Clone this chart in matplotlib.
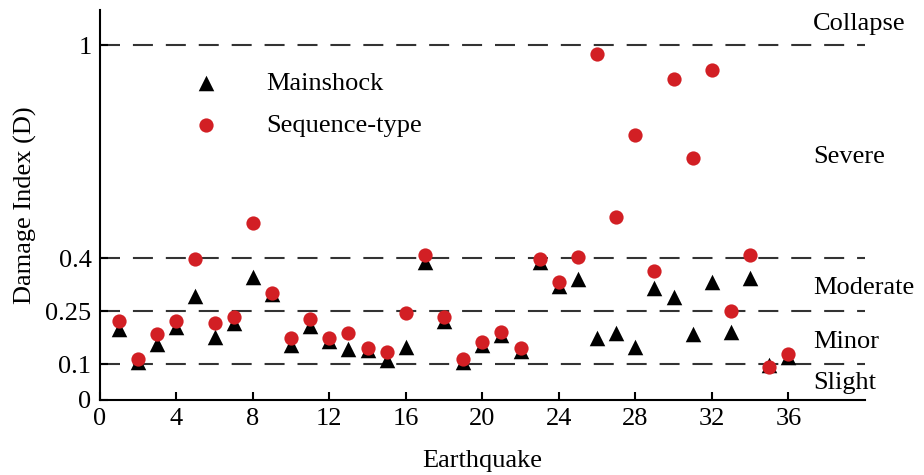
import matplotlib
matplotlib.use("Agg")
import matplotlib.pyplot as plt
import numpy as np

plt.rcParams['font.family'] = ['Liberation Serif', 'DejaVu Serif']
plt.rcParams['mathtext.fontset'] = 'stix'

# Data
earthquake = np.arange(1, 37)
mainshock = [0.20, 0.107, 0.158, 0.205, 0.293, 0.178, 0.217, 0.346, 0.298, 0.155,
             0.21, 0.166, 0.143, 0.14, 0.113, 0.15, 0.389, 0.223, 0.107, 0.155,
             0.183, 0.138, 0.389, 0.321, 0.341, 0.175, 0.189, 0.15, 0.315, 0.29,
             0.186, 0.332, 0.192, 0.344, 0.099, 0.121]
sequence = [0.223, 0.115, 0.186, 0.223, 0.397, 0.216, 0.235, 0.498, 0.303, 0.175,
            0.228, 0.175, 0.189, 0.146, 0.135, 0.245, 0.408, 0.235, 0.115, 0.163,
            0.192, 0.146, 0.397, 0.332, 0.403, 0.975, 0.515, 0.746, 0.363, 0.904,
            0.682, 0.932, 0.251, 0.408, 0.093, 0.13]

thresholds = [0.1, 0.25, 0.4, 1.0]
state_labels = ['Collapse', 'Severe', 'Moderate', 'Minor', 'Slight']
state_y = [1.06, 0.685, 0.315, 0.163, 0.048]

fig = plt.figure(figsize=(9.24, 4.75), dpi=100)
ax = fig.add_axes([0.108, 0.158, 0.828, 0.821])

# Damage state limits
for t in thresholds:
    ax.axhline(t, color='#333333', lw=1.5, dashes=(9.6, 6.2), zorder=1)

ax.scatter(earthquake, mainshock, marker='^', s=125, color='black',
           linewidths=0, zorder=2, label='Mainshock')
ax.scatter(earthquake, sequence, marker='o', s=105, color='#d21f24',
           linewidths=0, zorder=3, label='Sequence-type')

for lab, y in zip(state_labels, state_y):
    ax.text(37.3, y, lab, fontsize=19, ha='left', va='center', clip_on=False)

ax.set_xlim(0, 40)
ax.set_ylim(0, 1.1)
ax.set_xticks(np.arange(0, 37, 4))
ax.set_yticks([0, 0.1, 0.25, 0.4, 1])
ax.set_yticklabels(['0', '0.1', '0.25', '0.4', '1'])
ax.tick_params(direction='in', length=6, width=1.5, labelsize=19, pad=6)
ax.set_xlabel('Earthquake', fontsize=19, labelpad=14)
ax.set_ylabel('Damage Index (D)', fontsize=19, labelpad=6)

for side in ['top', 'right']:
    ax.spines[side].set_visible(False)
for side in ['left', 'bottom']:
    ax.spines[side].set_linewidth(1.5)

ax.legend(loc='upper left', bbox_to_anchor=(0.09, 0.87), frameon=False,
          fontsize=19, handlelength=2, handletextpad=1.3, labelspacing=0.7,
          borderaxespad=0)

fig.savefig('out.png', dpi=100)
